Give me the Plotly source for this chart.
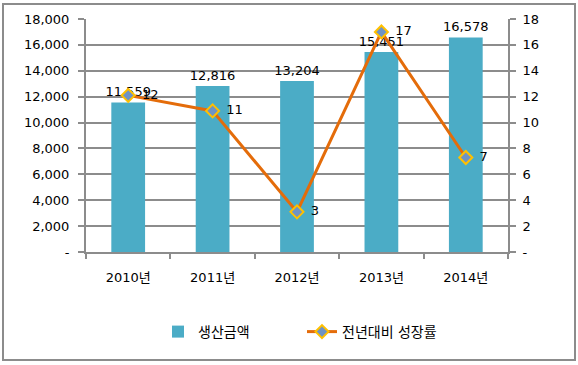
import plotly.graph_objects as go

categories = ["2010년", "2011년", "2012년", "2013년", "2014년"]
production = [11559, 12816, 13204, 15451, 16578]
growth = [12.1, 10.9, 3.1, 17.0, 7.3]
growth_labels = ["12", "11", "3", "17", "7"]
left_ticks = [0, 2000, 4000, 6000, 8000, 10000, 12000, 14000, 16000, 18000]
left_ticktext = ["-", "2,000", "4,000", "6,000", "8,000", "10,000", "12,000", "14,000", "16,000", "18,000"]
right_ticks = [0, 2, 4, 6, 8, 10, 12, 14, 16, 18]
right_ticktext = ["-", "2", "4", "6", "8", "10", "12", "14", "16", "18"]

FONT = "DejaVu Sans, Noto Sans CJK KR, sans-serif"
GRID = "#8c8c8c"

fig = go.Figure()
fig.add_trace(go.Bar(
    x=categories, y=production, name="생산금액",
    marker=dict(color="#4BACC6", line=dict(width=0)),
    width=0.4,
    text=[f"{v:,}" for v in production], textposition="outside",
    constraintext="none",
    textfont=dict(size=13, color="#000000", family=FONT),
    cliponaxis=False,
))
fig.add_trace(go.Scatter(
    x=categories, y=growth, name="전년대비 성장률", yaxis="y2",
    mode="lines+markers+text",
    line=dict(color="#E46C0A", width=3),
    marker=dict(symbol="diamond", size=10, color="#6F93C4", line=dict(color="#FFC000", width=2)),
    text=growth_labels, texttemplate="\u2002%{text}", textposition="middle right",
    textfont=dict(size=13, color="#000000", family=FONT),
    cliponaxis=False,
))

fig.update_layout(
    width=578, height=365,
    margin=dict(l=86, r=70, t=19, b=113, autoexpand=False),
    paper_bgcolor="white", plot_bgcolor="white",
    font=dict(family=FONT, size=13, color="#000000"),
    showlegend=True,
    legend=dict(orientation="h", x=(158 - 86) / 422, xanchor="left", y=(252 - 332) / 233, yanchor="middle",
                font=dict(size=14, family=FONT), entrywidth=99, entrywidthmode="pixels",
                itemwidth=30, tracegroupgap=0, bgcolor="rgba(0,0,0,0)"),
    xaxis=dict(
        showline=True, linecolor=GRID, linewidth=2, automargin=False,
        ticks="outside", tickson="boundaries", ticklen=5, tickcolor=GRID, tickwidth=2,
        showgrid=False, tickfont=dict(size=13), ticklabelstandoff=12,
    ),
    yaxis=dict(
        range=[0, 18000], tickvals=left_ticks, ticktext=left_ticktext, automargin=False,
        showgrid=True, gridcolor=GRID, gridwidth=2,
        showline=True, linecolor=GRID, linewidth=2,
        ticks="outside", ticklen=6, tickcolor=GRID, tickwidth=2,
        zeroline=False, tickfont=dict(size=13), ticklabelstandoff=6,
    ),
    yaxis2=dict(
        range=[0, 18], tickvals=right_ticks, ticktext=right_ticktext, automargin=False,
        overlaying="y", side="right", showgrid=False,
        showline=True, linecolor=GRID, linewidth=2,
        ticks="outside", ticklen=6, tickcolor=GRID, tickwidth=2,
        zeroline=False, tickfont=dict(size=13), ticklabelstandoff=4,
    ),
    shapes=[dict(type="rect", xref="paper", yref="paper",
                 x0=(3 - 86) / 422, x1=(575 - 86) / 422,
                 y0=(252 - 360) / 233, y1=(252 - 4) / 233,
                 line=dict(color="#8c8c8c", width=2), fillcolor="rgba(0,0,0,0)")],
)

fig.write_html("out.html", config={"displayModeBar": False},
               post_script="document.body.style.margin='0';document.body.style.overflow='hidden';")
